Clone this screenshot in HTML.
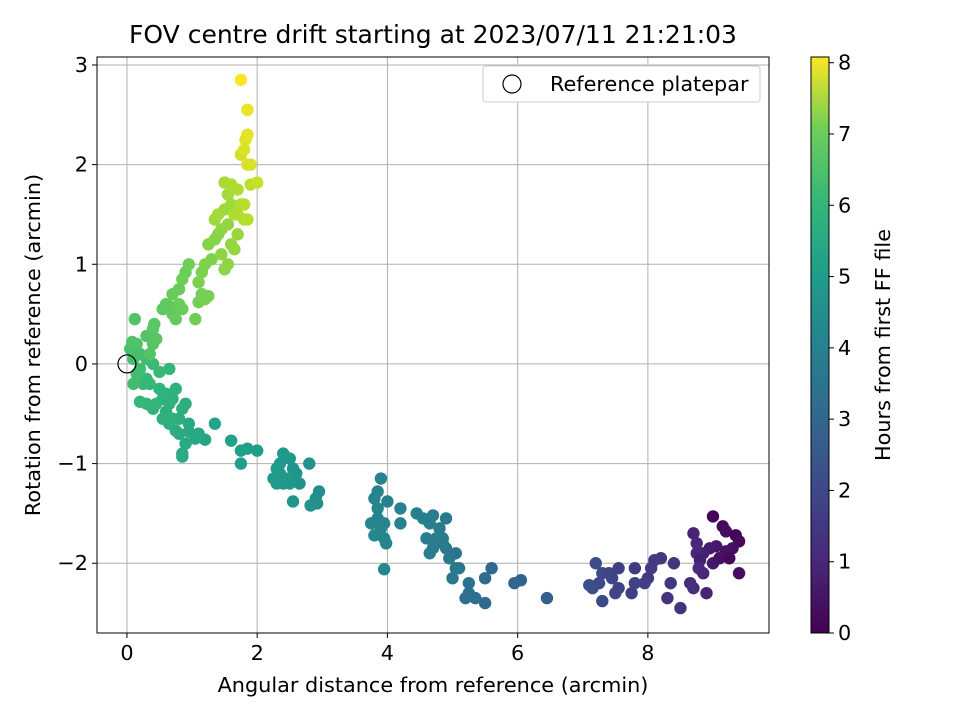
<!DOCTYPE html>
<html><head><meta charset="utf-8"><style>
body{margin:0;background:#fff;font-family:"Liberation Sans","DejaVu Sans",sans-serif}
svg text{font-family:"DejaVu Sans","Liberation Sans",sans-serif}
</style></head><body>
<svg id="chart" width="960" height="720" xmlns="http://www.w3.org/2000/svg">
<defs><linearGradient id="vir" x1="0" y1="1" x2="0" y2="0">
<stop offset="0" stop-color="#440154"/><stop offset="0.125" stop-color="#482878"/><stop offset="0.25" stop-color="#3e4989"/><stop offset="0.375" stop-color="#31688e"/><stop offset="0.5" stop-color="#26828e"/><stop offset="0.625" stop-color="#1f9e89"/><stop offset="0.75" stop-color="#35b779"/><stop offset="0.875" stop-color="#6ece58"/><stop offset="1" stop-color="#fde725"/></linearGradient></defs>
<text x="433" y="43" font-size="25" text-anchor="middle">FOV centre drift starting at 2023/07/11 21:21:03</text>
<g id="grid"></g><g id="pts"></g>
<rect x="97" y="57" width="672" height="576" fill="none" stroke="#000" stroke-width="1"/>
<g id="axes"></g>
<text x="433" y="692" font-size="20.8" text-anchor="middle">Angular distance from reference (arcmin)</text>
<text transform="translate(40,345) rotate(-90)" font-size="20.8" text-anchor="middle">Rotation from reference (arcmin)</text>
<g>
<rect x="483" y="66" width="277" height="36" rx="3" fill="#fff" stroke="#ccc"/>
<circle cx="512" cy="84" r="9" fill="none" stroke="#000" stroke-width="1.2"/>
<text x="550" y="91" font-size="20.8">Reference platepar</text></g>
<rect x="811" y="57" width="18" height="576" fill="url(#vir)" stroke="#000"/>
<g id="cbar"></g>
<text transform="translate(890,345) rotate(-90)" font-size="20.8" text-anchor="middle">Hours from first FF file</text>
</svg>
<script>
const xTicks=[0,2,4,6,8];
const yTicks=[-2,-1,0,1,2,3];
const cTicks=[0,1,2,3,4,5,6,7,8];
const xs=[9.0,9.15,9.2,9.35,9.4,9.3,9.2,9.05,8.95,8.85,8.7,8.75,8.75,8.8,9.0,9.1,9.4,9.25,8.9,8.78,8.85,8.65,8.7,8.5,8.3,8.35,8.4,8.2,8.1,8.05,8.0,7.95,7.8,7.75,7.8,7.55,7.55,7.5,7.45,7.3,7.3,7.2,7.15,7.25,7.4,7.1,
6.45,6.05,5.95,5.6,5.5,5.5,5.35,5.25,5.2,5.25,5.1,5.05,5.0,5.05,4.95,4.9,4.85,4.9,4.85,4.8,4.75,4.7,4.65,4.6,4.55,4.7,4.65,4.45,4.2,4.2,4.0,3.9,3.85,3.8,3.85,3.85,3.9,3.75,3.8,3.95,3.98,3.95,3.95,
2.95,2.9,2.92,2.82,2.8,2.65,2.6,2.55,2.55,2.5,2.45,2.4,2.4,2.35,2.35,2.3,2.25,2.3,2.5,2.0,1.85,1.75,1.75,1.6,
1.35,1.2,1.1,1.05,0.95,0.95,0.9,0.85,0.85,0.8,0.75,0.8,0.9,0.85,0.7,0.65,0.6,0.65,0.55,0.5,0.6,0.7,0.75,0.55,0.45,0.65,0.4,0.3,0.2,0.25,0.3,0.35,0.5,0.4,0.3,0.2,0.15,0.1,0.2,0.1,0.05,0.08,0.15,0.12,0.3,0.35,0.4,0.45,0.4,0.42,0.55,0.6,0.65,0.7,0.75,0.7,0.8,0.85,0.8,0.85,0.9,0.95,1.05,1.1,1.15,1.2,1.25,1.1,1.15,1.2,1.3,1.25,1.35,1.4,1.45,1.5,1.55,1.45,1.55,1.6,1.65,1.7,1.5,1.6,1.55,1.5,1.6,1.7,1.75,1.8,1.85,1.7,1.65,1.35,1.4,1.9,2.0,1.75,1.85,1.9,1.8,1.82,1.85,1.85,1.75,1.8];
const ys=[-1.53,-1.63,-1.68,-1.72,-1.78,-1.85,-1.88,-1.83,-1.85,-1.9,-1.7,-1.8,-1.9,-1.97,-2.0,-1.95,-2.1,-1.95,-2.3,-2.05,-2.1,-2.2,-2.25,-2.45,-2.35,-2.2,-2.0,-1.95,-1.97,-2.05,-2.15,-2.2,-2.05,-2.3,-2.2,-2.05,-2.25,-2.3,-2.15,-2.1,-2.38,-2.0,-2.25,-2.2,-2.1,-2.22,
-2.35,-2.17,-2.2,-2.05,-2.15,-2.4,-2.35,-2.3,-2.35,-2.2,-2.05,-1.9,-2.15,-2.05,-1.95,-1.85,-1.75,-1.55,-1.8,-1.65,-1.75,-1.85,-1.9,-1.75,-1.55,-1.52,-1.6,-1.5,-1.45,-1.6,-1.38,-1.15,-1.28,-1.35,-1.45,-1.55,-1.65,-1.6,-1.72,-1.75,-1.8,-2.06,-1.6,
-1.28,-1.35,-1.4,-1.42,-1.0,-1.2,-1.1,-1.05,-1.38,-0.95,-1.15,-0.9,-1.2,-1.0,-1.1,-1.2,-1.15,-1.05,-1.2,-0.87,-0.85,-0.87,-1.0,-0.77,
-0.6,-0.76,-0.7,-0.75,-0.6,-0.68,-0.8,-0.9,-0.93,-0.7,-0.67,-0.55,-0.4,-0.45,-0.55,-0.6,-0.48,-0.4,-0.35,-0.25,-0.3,-0.35,-0.25,-0.55,-0.4,-0.05,-0.45,-0.4,-0.38,-0.2,-0.15,-0.2,-0.08,0.0,0.05,-0.05,-0.1,-0.2,0.1,0.05,0.15,0.22,0.2,0.45,0.28,0.1,0.2,0.25,0.35,0.4,0.55,0.6,0.58,0.5,0.45,0.7,0.6,0.55,0.75,0.85,0.92,1.0,0.45,0.62,0.7,0.65,0.68,0.82,0.92,1.0,1.05,1.2,1.25,1.3,1.1,0.95,1.0,1.35,1.4,1.2,1.15,1.3,1.55,1.6,1.7,1.82,1.8,1.75,1.6,1.45,1.45,1.5,1.5,1.45,1.5,1.8,1.82,2.1,2.0,2.0,2.15,2.25,2.3,2.55,2.85,1.6];
const hours=[0.1,0.2,0.3,0.1,0.2,0.3,0.4,0.5,0.6,0.7,0.8,0.9,0.9,0.7,0.5,0.4,0.3,0.2,0.8,1.0,0.9,1.0,1.1,1.2,1.2,1.3,1.2,1.3,1.4,1.4,1.3,1.5,1.4,1.5,1.6,1.5,1.6,1.7,1.7,1.8,1.8,1.9,1.9,1.8,1.7,2.0,
2.4,2.5,2.6,2.7,2.8,2.8,2.9,2.9,3.0,3.0,3.1,3.1,3.2,3.2,3.2,3.3,3.3,3.3,3.35,3.4,3.4,3.4,3.45,3.45,3.5,3.5,3.5,3.5,3.55,3.55,3.6,3.6,3.65,3.7,3.7,3.7,3.7,3.75,3.75,3.7,3.75,3.75,3.72,
4.0,4.0,4.05,4.1,4.1,4.15,4.2,4.2,4.25,4.25,4.3,4.3,4.3,4.35,4.35,4.4,4.4,4.4,4.3,4.5,4.5,4.55,4.55,4.6,
4.7,4.75,4.8,4.85,4.85,4.9,4.9,4.9,4.95,4.95,5.0,5.0,5.0,5.05,5.1,5.1,5.1,5.15,5.2,5.2,5.2,5.15,5.15,5.1,5.3,5.3,5.25,5.35,5.4,5.4,5.45,5.4,5.45,5.5,5.55,5.6,5.6,5.6,5.65,5.7,5.75,5.8,5.8,5.85,5.85,5.9,5.9,5.95,5.95,6.0,6.05,6.05,6.1,6.1,6.15,6.15,6.2,6.2,6.2,6.25,6.25,6.3,6.3,6.35,6.35,6.4,6.4,6.45,6.45,6.5,6.5,6.55,6.6,6.6,6.65,6.65,6.7,6.7,6.75,6.75,6.8,6.8,6.85,6.9,6.95,7.0,7.05,7.1,7.1,7.15,7.2,7.15,7.1,6.9,6.95,7.3,7.4,7.5,7.6,7.6,7.65,7.7,7.75,7.85,8.0,7.2];
const X0=97,X1=769,Y0=57,Y1=633,xmin=-0.46,xmax=9.86,ymin=-2.70,ymax=3.08,cmax=8.08;
const sx=v=>X0+(v-xmin)/(xmax-xmin)*(X1-X0);
const sy=v=>Y1-(v-ymin)/(ymax-ymin)*(Y1-Y0);
const sc=v=>633-v/cmax*576;
const NS='http://www.w3.org/2000/svg';
function mk(t,a,p){const e=document.createElementNS(NS,t);for(const k in a)e.setAttribute(k,a[k]);p.appendChild(e);return e;}
const stops=[[68,1,84],[72,40,120],[62,73,137],[49,104,142],[38,130,142],[31,158,137],[53,183,121],[110,206,88],[181,222,43],[253,231,37]];
function vir(t){t=Math.max(0,Math.min(1,t))*(stops.length-1);const i=Math.min(stops.length-2,Math.floor(t)),f=t-i;const c=stops[i].map((v,k)=>Math.round(v+(stops[i+1][k]-v)*f));return `rgb(${c})`;}
const grid=document.getElementById('grid'),axes=document.getElementById('axes'),pts=document.getElementById('pts'),cb=document.getElementById('cbar');
xTicks.forEach(v=>{const x=sx(v);
 const g=mk('line',{x1:x,x2:x,y1:Y0,y2:Y1,stroke:'#b0b0b0','stroke-width':1},grid);
 mk('line',{x1:x,x2:x,y1:Y1,y2:Y1+5,stroke:'#000'},axes);
 const t=mk('text',{x:x,y:Y1+27,'font-size':20.8,'text-anchor':'middle'},axes);t.textContent=v;});
yTicks.forEach(v=>{const y=sy(v);
 const g=mk('line',{x1:X0,x2:X1,y1:y,y2:y,stroke:'#b0b0b0','stroke-width':1},grid);
 mk('line',{x1:X0-5,x2:X0,y1:y,y2:y,stroke:'#000'},axes);
 const t=mk('text',{x:X0-9,y:y+7,'font-size':20.8,'text-anchor':'end'},axes);t.textContent=v<0?'\u2212'+(-v):v;});
cTicks.forEach(v=>{const y=sc(v);
 mk('line',{x1:829,x2:834,y1:y,y2:y,stroke:'#000'},cb);
 const t=mk('text',{x:838,y:y+7,'font-size':20.8},cb);t.textContent=v;});
xs.forEach((v,i)=>{const c=mk('circle',{cx:sx(v),cy:sy(ys[i]),r:6.2,fill:vir(hours[i]/cmax)},pts);
 
 });
const r=mk('circle',{cx:sx(0),cy:sy(0),r:9,fill:'none',stroke:'#000','stroke-width':1.2},pts);


</script>
</body></html>
